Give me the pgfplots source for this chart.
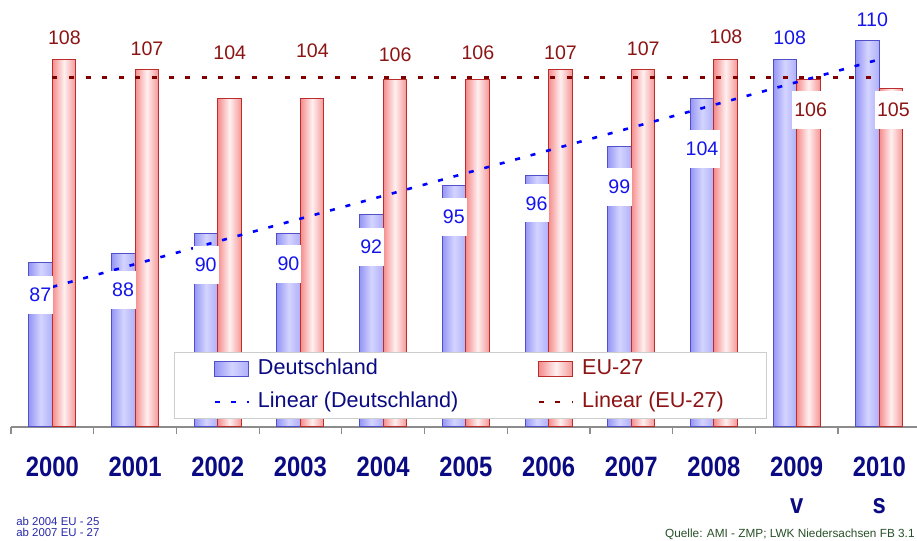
\documentclass[border=0pt]{standalone}
\usepackage{pgfplots}
\usepackage{pgfplotstable}
\pgfplotsset{compat=1.18}
\usepackage{fontspec}
\setmainfont{Liberation Sans}
\newfontfamily\narrowfont[FakeStretch=0.85]{Liberation Sans}

\definecolor{deleft}{RGB}{150,150,245}
\definecolor{demid}{RGB}{212,212,255}
\definecolor{deright}{RGB}{175,175,250}
\definecolor{deborder}{RGB}{80,80,200}
\definecolor{euleft}{RGB}{245,140,140}
\definecolor{eumid}{RGB}{255,240,240}
\definecolor{euright}{RGB}{245,150,150}
\definecolor{euborder}{RGB}{185,45,45}
\definecolor{detrend}{RGB}{0,0,255}
\definecolor{eutrend}{RGB}{128,0,0}
\definecolor{navy}{RGB}{10,10,130}
\definecolor{eudark}{RGB}{140,20,20}
\definecolor{delabel}{RGB}{20,20,235}
\definecolor{axisgray}{RGB}{140,140,140}
\definecolor{noteblue}{RGB}{40,40,170}
\definecolor{quelle}{RGB}{40,80,40}

\newcommand{\yearfont}{\narrowfont\bfseries\fontsize{14}{18.5}\selectfont}
\newcommand{\labelfont}{\fontsize{9.8}{11}\selectfont}

% values, and the heights at which their labels sit (as placed in the source chart)
\pgfplotstableread{
x  de  eu  dely   euly
0  87  108 83.66  110.27
1  88  107 84.18  109.20
2  90  104 86.77  108.74
3  90  104 86.90  108.94
4  92  106 88.66  108.51
5  95  106 91.77  108.69
6  96  107 93.16  108.77
7  99  107 94.88  109.11
8  104 108 98.76  110.40
9  108 106 110.29 102.82
10 110 105 112.18 102.82
}\datatable

\pgfplotsset{
  barleg/.style={legend image code/.code={\draw[##1] (0pt,-3.75pt) rectangle (17pt,3.75pt);}},
  lineleg/.style={legend image code/.code={\draw[##1] (0pt,0pt) -- (17pt,0pt);}},
  debar/.style={ybar, bar width=11.75pt, bar shift=-5.875pt, draw=deborder, line width=0.5pt,
    left color=deleft, right color=deright, middle color=demid},
  eubar/.style={ybar, bar width=11.75pt, bar shift=5.875pt, draw=euborder, line width=0.5pt,
    left color=euleft, right color=euright, middle color=eumid},
  delab/.style={forget plot, ybar, bar width=11.75pt, bar shift=-5.875pt, draw=none, fill=none,
    nodes near coords, point meta=explicit symbolic},
  eulab/.style={forget plot, ybar, bar width=11.75pt, bar shift=5.875pt, draw=none, fill=none,
    nodes near coords, point meta=explicit symbolic},
  boxlab/.style 2 args={nodes near coords style={font=\labelfont, text=#1, fill=white, anchor=center,
    inner xsep=1pt, inner ysep=6pt, xshift=#2}},
  freelab/.style 2 args={nodes near coords style={font=\labelfont, text=#1, anchor=center, inner sep=1pt, xshift=#2}},
}

\begin{document}
\begin{tikzpicture}
\begin{axis}[
  at={(5.5pt,57pt)}, anchor=south west,
  scale only axis, width=454.85pt, height=213.5pt,
  xmin=-0.5, xmax=10.5, ymin=70, ymax=114.2,
  axis y line=none, axis x line*=bottom,
  x axis line style={draw=axisgray, line width=0.6pt, -},
  xtick={0,1,2,3,4,5,6,7,8,9,10},
  xticklabels={2000,2001,2002,2003,2004,2005,2006,2007,2008,{2009\\v},{2010\\s}},
  major tick length=0pt,
  minor xtick={-0.5,0.5,1.5,2.5,3.5,4.5,5.5,6.5,7.5,8.5,9.5,10.5},
  minor tick length=3.5pt,
  tick align=outside,
  minor tick style={draw=axisgray, line width=0.6pt},
  xticklabel style={font=\yearfont, text=navy, align=center, anchor=north, inner sep=0pt, yshift=-15pt},
  clip=false,
  legend columns=2,
  legend cell align=left,
  legend style={at={(axis description cs:0.179,0.1756)}, anchor=north west,
    draw={rgb,255:red,205;green,205;blue,205}, fill=white, line width=0.5pt,
    font=\fontsize{10.8}{12}\selectfont,
    inner xsep=19.5pt, inner ysep=1pt, row sep=2pt,
    nodes={inner sep=2pt, text height=8pt, text depth=2.5pt},
    /tikz/every odd column/.append style={column sep=2pt},
    /tikz/every even column/.append style={column sep=37.5pt}},
]
% bars, one plot per bar so that each bar gets its own shading
\pgfplotsinvokeforeach{0,...,10}{
  \addplot[debar, forget plot] table[x=x, y=de, restrict x to domain=#1:#1] {\datatable};
  \addplot[eubar, forget plot] table[x=x, y=eu, restrict x to domain=#1:#1] {\datatable};
}
\addlegendimage{barleg, draw=deborder, line width=0.5pt, left color=deleft, right color=deright, middle color=demid}
\addlegendimage{barleg, draw=euborder, line width=0.5pt, left color=euleft, right color=euright, middle color=eumid}
% linear trends
\addplot[detrend, line width=1.3pt, dash pattern=on 2.5pt off 5.5pt, lineleg]
  coordinates {(0,84.50) (10,108.05)};
\addplot[eutrend, line width=1.4pt, dash pattern=on 2.5pt off 5.8pt, lineleg]
  coordinates {(0,106.18) (10,106.18)};
% value labels
\addplot[eulab, freelab={eudark}{6pt}] table[x=x, y=euly, meta=eu, restrict x to domain=0:8] {\datatable};
\addplot[eulab, boxlab={eudark}{7pt}]  table[x=x, y=euly, meta=eu, restrict x to domain=9:10] {\datatable};
\addplot[delab, boxlab={delabel}{-6pt}] table[x=x, y=dely, meta=de, restrict x to domain=0:8] {\datatable};
\addplot[delab, freelab={delabel}{-3.5pt}] table[x=x, y=dely, meta=de, restrict x to domain=9:10] {\datatable};
\legend{\textcolor{navy}{Deutschland}, \textcolor{eudark}{EU-27},
  \textcolor{navy}{Linear (Deutschland)}, \textcolor{eudark}{Linear (EU-27)}}
\end{axis}
\node[anchor=west, inner sep=0pt, text=noteblue, font=\fontsize{5.7}{6}\selectfont] at (8pt,10pt) {ab 2004 EU - 25};
\node[anchor=west, inner sep=0pt, text=noteblue, font=\fontsize{5.7}{6}\selectfont] at (8pt,4.5pt) {ab 2007 EU - 27};
\node[anchor=east, inner sep=0pt, text=quelle, font=\fontsize{5.9}{6}\selectfont] at (457.5pt,3.5pt) {Quelle: AMI - ZMP; LWK Niedersachsen FB 3.1};
\pgfresetboundingbox
\path[use as bounding box] (0,0) rectangle (458.5pt,270.5pt);
\end{tikzpicture}
\end{document}
